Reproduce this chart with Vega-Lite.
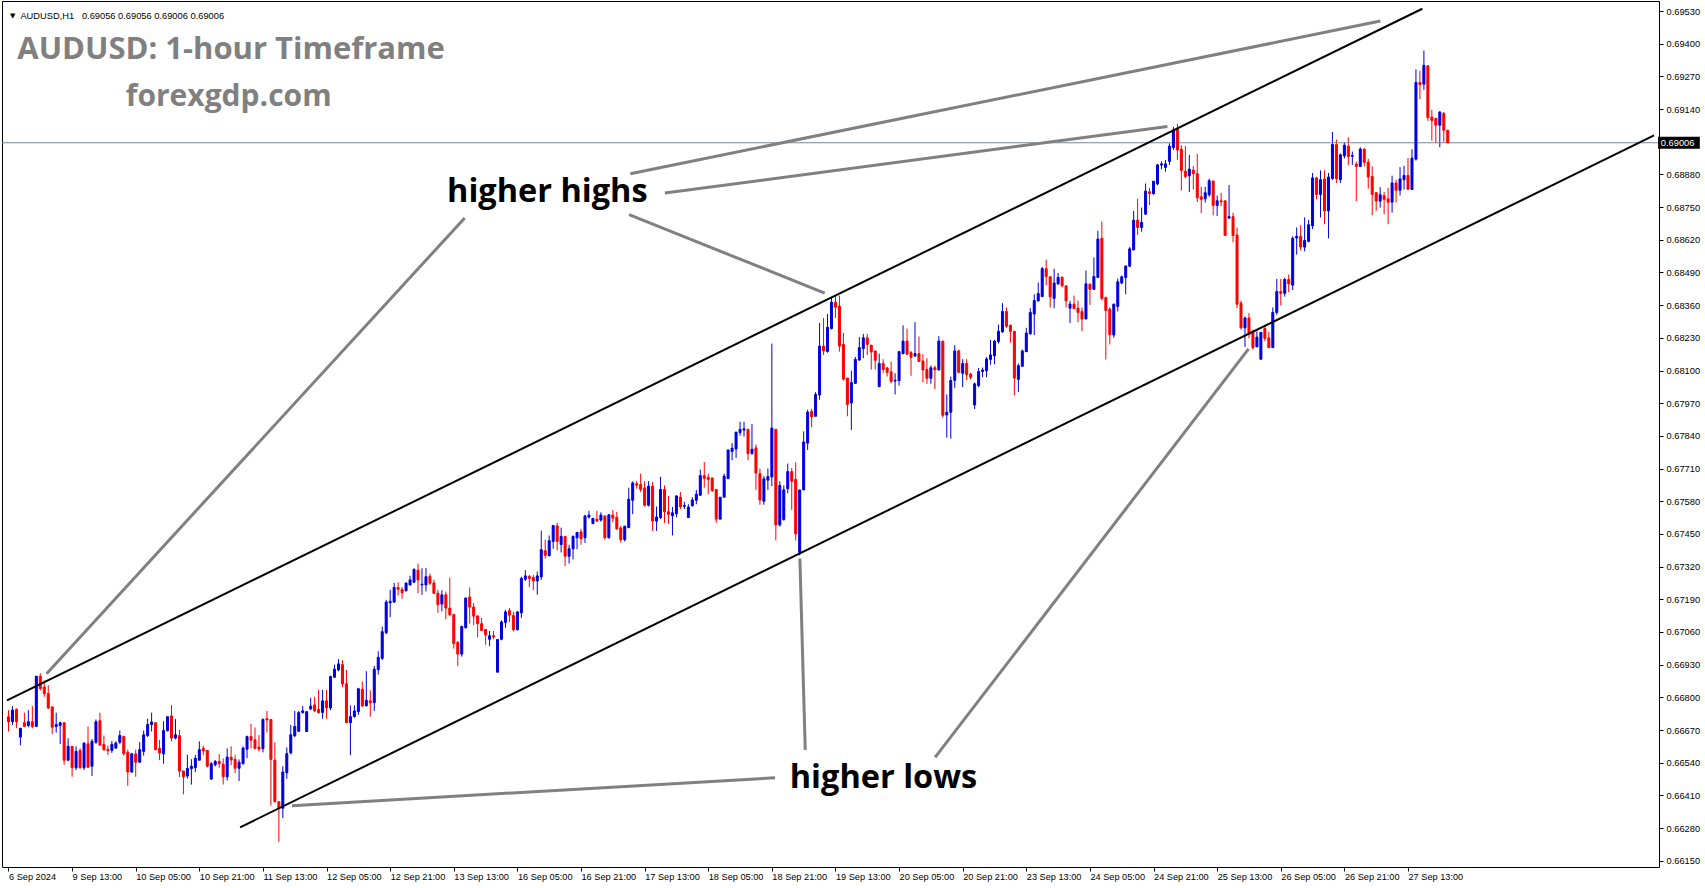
{
"$schema":"https://vega.github.io/schema/vega-lite/v6.json",
"usermeta":{"embedOptions":{"actions":false}},
"width":1657,"height":866,
"autosize":{"type":"none"},
"padding":{"left":2,"top":1,"right":46,"bottom":21},
"background":"white",
"config":{"view":{"stroke":"black","strokeWidth":1},"axis":{"grid":false}},
"datasets":{"candles":[
{"i":0,"o":0.66723,"h":0.66749,"l":0.66664,"c":0.66703},
{"i":1,"o":0.66703,"h":0.66765,"l":0.6669,"c":0.66749},
{"i":2,"o":0.66752,"h":0.66756,"l":0.66677,"c":0.66703},
{"i":3,"o":0.66642,"h":0.66677,"l":0.66609,"c":0.66677},
{"i":4,"o":0.66699,"h":0.66739,"l":0.66684,"c":0.66684},
{"i":5,"o":0.66688,"h":0.66749,"l":0.66681,"c":0.66703},
{"i":6,"o":0.66703,"h":0.66765,"l":0.66677,"c":0.66684},
{"i":7,"o":0.66684,"h":0.66884,"l":0.66684,"c":0.66884},
{"i":8,"o":0.66884,"h":0.66896,"l":0.66828,"c":0.66834},
{"i":9,"o":0.66841,"h":0.66867,"l":0.66802,"c":0.66815},
{"i":10,"o":0.66815,"h":0.66848,"l":0.66753,"c":0.66758},
{"i":11,"o":0.66762,"h":0.66762,"l":0.66654,"c":0.66681},
{"i":12,"o":0.66684,"h":0.66739,"l":0.6666,"c":0.66692},
{"i":13,"o":0.66688,"h":0.66703,"l":0.66614,"c":0.66699},
{"i":14,"o":0.66699,"h":0.66699,"l":0.66532,"c":0.6655},
{"i":15,"o":0.6655,"h":0.66637,"l":0.66546,"c":0.66605},
{"i":16,"o":0.66605,"h":0.66605,"l":0.66484,"c":0.6652},
{"i":17,"o":0.6652,"h":0.66605,"l":0.66511,"c":0.66585},
{"i":18,"o":0.66588,"h":0.66597,"l":0.66516,"c":0.6652},
{"i":19,"o":0.6652,"h":0.66621,"l":0.66511,"c":0.66618},
{"i":20,"o":0.66615,"h":0.66684,"l":0.6652,"c":0.66522},
{"i":21,"o":0.66526,"h":0.66634,"l":0.66487,"c":0.66625},
{"i":22,"o":0.66621,"h":0.66712,"l":0.66615,"c":0.66703},
{"i":23,"o":0.66707,"h":0.66739,"l":0.66608,"c":0.6661},
{"i":24,"o":0.66613,"h":0.66648,"l":0.66589,"c":0.66591},
{"i":25,"o":0.66593,"h":0.66608,"l":0.66571,"c":0.66588},
{"i":26,"o":0.66589,"h":0.66626,"l":0.66579,"c":0.66613},
{"i":27,"o":0.66598,"h":0.66625,"l":0.66596,"c":0.66618},
{"i":28,"o":0.66621,"h":0.66668,"l":0.66615,"c":0.66648},
{"i":29,"o":0.66644,"h":0.66648,"l":0.66568,"c":0.66576},
{"i":30,"o":0.66581,"h":0.66592,"l":0.66448,"c":0.66503},
{"i":31,"o":0.66503,"h":0.66579,"l":0.665,"c":0.66575},
{"i":32,"o":0.66575,"h":0.66592,"l":0.66484,"c":0.66542},
{"i":33,"o":0.66542,"h":0.66622,"l":0.6654,"c":0.66592},
{"i":34,"o":0.66585,"h":0.66668,"l":0.66568,"c":0.66651},
{"i":35,"o":0.66648,"h":0.66715,"l":0.66642,"c":0.66692},
{"i":36,"o":0.66692,"h":0.66739,"l":0.66664,"c":0.66702},
{"i":37,"o":0.66699,"h":0.66699,"l":0.66589,"c":0.66592},
{"i":38,"o":0.66597,"h":0.66631,"l":0.6655,"c":0.66579},
{"i":39,"o":0.66575,"h":0.66705,"l":0.66536,"c":0.66668},
{"i":40,"o":0.66668,"h":0.66723,"l":0.66664,"c":0.66723},
{"i":41,"o":0.66726,"h":0.66769,"l":0.66625,"c":0.66638},
{"i":42,"o":0.66638,"h":0.66714,"l":0.66633,"c":0.66651},
{"i":43,"o":0.66648,"h":0.66671,"l":0.66483,"c":0.66507},
{"i":44,"o":0.66507,"h":0.66507,"l":0.66414,"c":0.66484},
{"i":45,"o":0.66487,"h":0.66572,"l":0.66477,"c":0.66517},
{"i":46,"o":0.66516,"h":0.66554,"l":0.66453,"c":0.66526},
{"i":47,"o":0.6652,"h":0.66571,"l":0.66503,"c":0.66558},
{"i":48,"o":0.6655,"h":0.66625,"l":0.6655,"c":0.66592},
{"i":49,"o":0.66597,"h":0.66608,"l":0.6657,"c":0.66587},
{"i":50,"o":0.66589,"h":0.66589,"l":0.66522,"c":0.66526},
{"i":51,"o":0.66475,"h":0.66542,"l":0.66471,"c":0.66536},
{"i":52,"o":0.66532,"h":0.66551,"l":0.66525,"c":0.66545},
{"i":53,"o":0.66545,"h":0.66574,"l":0.6652,"c":0.66536},
{"i":54,"o":0.66534,"h":0.66557,"l":0.66453,"c":0.66484},
{"i":55,"o":0.66484,"h":0.66597,"l":0.66469,"c":0.66562},
{"i":56,"o":0.66562,"h":0.66605,"l":0.6653,"c":0.66551},
{"i":57,"o":0.66553,"h":0.66571,"l":0.66499,"c":0.66518},
{"i":58,"o":0.66518,"h":0.66553,"l":0.66467,"c":0.66542},
{"i":59,"o":0.66536,"h":0.66605,"l":0.66533,"c":0.66598},
{"i":60,"o":0.66594,"h":0.66648,"l":0.66558,"c":0.66644},
{"i":61,"o":0.66644,"h":0.66694,"l":0.66597,"c":0.66629},
{"i":62,"o":0.66631,"h":0.6668,"l":0.66593,"c":0.66597},
{"i":63,"o":0.66602,"h":0.6665,"l":0.66584,"c":0.66594},
{"i":64,"o":0.66596,"h":0.66716,"l":0.66581,"c":0.66712},
{"i":65,"o":0.66715,"h":0.66746,"l":0.6666,"c":0.6671},
{"i":66,"o":0.66712,"h":0.66712,"l":0.66369,"c":0.66553},
{"i":67,"o":0.6655,"h":0.66621,"l":0.66382,"c":0.66385},
{"i":68,"o":0.66385,"h":0.66385,"l":0.66225,"c":0.66362},
{"i":69,"o":0.66359,"h":0.66526,"l":0.66319,"c":0.66503},
{"i":70,"o":0.665,"h":0.66601,"l":0.66476,"c":0.66576},
{"i":71,"o":0.66579,"h":0.6669,"l":0.66573,"c":0.66651},
{"i":72,"o":0.66647,"h":0.66746,"l":0.66642,"c":0.66684},
{"i":73,"o":0.66665,"h":0.66746,"l":0.66663,"c":0.66739},
{"i":74,"o":0.66739,"h":0.66765,"l":0.66736,"c":0.66746},
{"i":75,"o":0.66664,"h":0.66743,"l":0.66664,"c":0.66743},
{"i":76,"o":0.66754,"h":0.66798,"l":0.66749,"c":0.66765},
{"i":77,"o":0.6677,"h":0.66802,"l":0.66741,"c":0.66746},
{"i":78,"o":0.66752,"h":0.6683,"l":0.66736,"c":0.66739},
{"i":79,"o":0.6674,"h":0.6683,"l":0.66715,"c":0.66786},
{"i":80,"o":0.66786,"h":0.6683,"l":0.66715,"c":0.66758},
{"i":81,"o":0.66758,"h":0.66886,"l":0.66749,"c":0.66883},
{"i":82,"o":0.6688,"h":0.6693,"l":0.66878,"c":0.66912},
{"i":83,"o":0.66909,"h":0.66952,"l":0.66904,"c":0.66933},
{"i":84,"o":0.6693,"h":0.66948,"l":0.66841,"c":0.66853},
{"i":85,"o":0.66854,"h":0.66909,"l":0.66697,"c":0.66699},
{"i":86,"o":0.66699,"h":0.66768,"l":0.6657,"c":0.66723},
{"i":87,"o":0.66723,"h":0.66768,"l":0.66719,"c":0.66746},
{"i":88,"o":0.66743,"h":0.66838,"l":0.6673,"c":0.66834},
{"i":89,"o":0.66832,"h":0.66863,"l":0.66762,"c":0.66766},
{"i":90,"o":0.66766,"h":0.66904,"l":0.66765,"c":0.66788},
{"i":91,"o":0.66786,"h":0.66828,"l":0.66723,"c":0.66778},
{"i":92,"o":0.66779,"h":0.66925,"l":0.66746,"c":0.66912},
{"i":93,"o":0.6691,"h":0.66983,"l":0.66891,"c":0.66959},
{"i":94,"o":0.66955,"h":0.67081,"l":0.66948,"c":0.67061},
{"i":95,"o":0.67057,"h":0.67188,"l":0.67051,"c":0.67179},
{"i":96,"o":0.67176,"h":0.67228,"l":0.67119,"c":0.67182},
{"i":97,"o":0.67179,"h":0.67255,"l":0.67175,"c":0.67237},
{"i":98,"o":0.67237,"h":0.67258,"l":0.67205,"c":0.6723},
{"i":99,"o":0.67229,"h":0.67239,"l":0.67192,"c":0.67216},
{"i":100,"o":0.67224,"h":0.67255,"l":0.67221,"c":0.67255},
{"i":101,"o":0.67247,"h":0.67283,"l":0.67245,"c":0.67267},
{"i":102,"o":0.67258,"h":0.67313,"l":0.67255,"c":0.67309},
{"i":103,"o":0.67306,"h":0.67332,"l":0.67214,"c":0.67267},
{"i":104,"o":0.67247,"h":0.67313,"l":0.67208,"c":0.6725},
{"i":105,"o":0.67247,"h":0.67315,"l":0.67221,"c":0.6728},
{"i":106,"o":0.67281,"h":0.67292,"l":0.67247,"c":0.67254},
{"i":107,"o":0.67255,"h":0.67268,"l":0.67212,"c":0.67214},
{"i":108,"o":0.67214,"h":0.67228,"l":0.67136,"c":0.67169},
{"i":109,"o":0.67171,"h":0.67226,"l":0.67142,"c":0.67208},
{"i":110,"o":0.67208,"h":0.67221,"l":0.6711,"c":0.67155},
{"i":111,"o":0.67155,"h":0.67276,"l":0.67123,"c":0.67129},
{"i":112,"o":0.67129,"h":0.67132,"l":0.66994,"c":0.67014},
{"i":113,"o":0.67018,"h":0.67024,"l":0.66925,"c":0.66972},
{"i":114,"o":0.66972,"h":0.67085,"l":0.66962,"c":0.67082},
{"i":115,"o":0.67077,"h":0.67197,"l":0.67074,"c":0.67195},
{"i":116,"o":0.67199,"h":0.67237,"l":0.67093,"c":0.67159},
{"i":117,"o":0.67159,"h":0.67175,"l":0.67087,"c":0.67123},
{"i":118,"o":0.67124,"h":0.67124,"l":0.67038,"c":0.67093},
{"i":119,"o":0.67093,"h":0.67116,"l":0.67064,"c":0.67066},
{"i":120,"o":0.6707,"h":0.6707,"l":0.67009,"c":0.67048},
{"i":121,"o":0.67031,"h":0.67064,"l":0.67003,"c":0.67045},
{"i":122,"o":0.67045,"h":0.67064,"l":0.67031,"c":0.6704},
{"i":123,"o":0.669,"h":0.6703,"l":0.669,"c":0.6703},
{"i":124,"o":0.67031,"h":0.67106,"l":0.67027,"c":0.671},
{"i":125,"o":0.67098,"h":0.67148,"l":0.67077,"c":0.6714},
{"i":126,"o":0.67145,"h":0.67155,"l":0.671,"c":0.67127},
{"i":127,"o":0.67125,"h":0.6714,"l":0.67062,"c":0.67069},
{"i":128,"o":0.67069,"h":0.67142,"l":0.67066,"c":0.6714},
{"i":129,"o":0.67136,"h":0.6728,"l":0.67116,"c":0.67273},
{"i":130,"o":0.6727,"h":0.67306,"l":0.67263,"c":0.67283},
{"i":131,"o":0.67281,"h":0.67287,"l":0.67239,"c":0.67273},
{"i":132,"o":0.67277,"h":0.67287,"l":0.67226,"c":0.67263},
{"i":133,"o":0.67263,"h":0.673,"l":0.67208,"c":0.67283},
{"i":134,"o":0.67279,"h":0.67463,"l":0.67267,"c":0.67387},
{"i":135,"o":0.67383,"h":0.67427,"l":0.67352,"c":0.67365},
{"i":136,"o":0.67364,"h":0.67444,"l":0.6736,"c":0.67423},
{"i":137,"o":0.6742,"h":0.67486,"l":0.67391,"c":0.67483},
{"i":138,"o":0.67482,"h":0.67494,"l":0.67385,"c":0.6742},
{"i":139,"o":0.67408,"h":0.67475,"l":0.67376,"c":0.6744},
{"i":140,"o":0.6744,"h":0.67441,"l":0.67322,"c":0.67361},
{"i":141,"o":0.67361,"h":0.67407,"l":0.67332,"c":0.67391},
{"i":142,"o":0.67391,"h":0.67444,"l":0.67349,"c":0.6744},
{"i":143,"o":0.67435,"h":0.67457,"l":0.67389,"c":0.67456},
{"i":144,"o":0.67458,"h":0.6747,"l":0.67407,"c":0.67431},
{"i":145,"o":0.67435,"h":0.67525,"l":0.67414,"c":0.67522},
{"i":146,"o":0.67517,"h":0.67542,"l":0.67512,"c":0.67525},
{"i":147,"o":0.67491,"h":0.67512,"l":0.6749,"c":0.67512},
{"i":148,"o":0.67509,"h":0.67542,"l":0.67499,"c":0.67501},
{"i":149,"o":0.67505,"h":0.67536,"l":0.67499,"c":0.67525},
{"i":150,"o":0.67521,"h":0.67525,"l":0.67427,"c":0.67435},
{"i":151,"o":0.67435,"h":0.67528,"l":0.67431,"c":0.67526},
{"i":152,"o":0.67525,"h":0.67545,"l":0.67496,"c":0.67513},
{"i":153,"o":0.67516,"h":0.67538,"l":0.67467,"c":0.6747},
{"i":154,"o":0.67474,"h":0.67481,"l":0.67415,"c":0.67427},
{"i":155,"o":0.67427,"h":0.67481,"l":0.6742,"c":0.67481},
{"i":156,"o":0.67475,"h":0.67634,"l":0.67474,"c":0.67588},
{"i":157,"o":0.67584,"h":0.67659,"l":0.67529,"c":0.67653},
{"i":158,"o":0.6765,"h":0.6766,"l":0.6763,"c":0.67644},
{"i":159,"o":0.67647,"h":0.6769,"l":0.67617,"c":0.67627},
{"i":160,"o":0.67633,"h":0.6766,"l":0.67559,"c":0.67564},
{"i":161,"o":0.67564,"h":0.6766,"l":0.67559,"c":0.6764},
{"i":162,"o":0.6764,"h":0.67656,"l":0.67462,"c":0.67501},
{"i":163,"o":0.67501,"h":0.67559,"l":0.67462,"c":0.67517},
{"i":164,"o":0.67515,"h":0.67677,"l":0.67509,"c":0.67627},
{"i":165,"o":0.67627,"h":0.67643,"l":0.67494,"c":0.67538},
{"i":166,"o":0.67538,"h":0.67601,"l":0.6749,"c":0.67528},
{"i":167,"o":0.67522,"h":0.67557,"l":0.67444,"c":0.67534},
{"i":168,"o":0.6753,"h":0.67604,"l":0.67516,"c":0.67601},
{"i":169,"o":0.67596,"h":0.67617,"l":0.67549,"c":0.67558},
{"i":170,"o":0.6756,"h":0.67578,"l":0.67549,"c":0.67563},
{"i":171,"o":0.67515,"h":0.67568,"l":0.67515,"c":0.67557},
{"i":172,"o":0.67562,"h":0.67596,"l":0.67559,"c":0.67585},
{"i":173,"o":0.67584,"h":0.67625,"l":0.67568,"c":0.67608},
{"i":174,"o":0.67604,"h":0.67706,"l":0.67601,"c":0.67682},
{"i":175,"o":0.67682,"h":0.67736,"l":0.67634,"c":0.67671},
{"i":176,"o":0.67675,"h":0.6769,"l":0.67608,"c":0.67667},
{"i":177,"o":0.67672,"h":0.67675,"l":0.67617,"c":0.67623},
{"i":178,"o":0.67627,"h":0.67627,"l":0.67494,"c":0.67509},
{"i":179,"o":0.67509,"h":0.67596,"l":0.67507,"c":0.67596},
{"i":180,"o":0.67596,"h":0.6769,"l":0.67596,"c":0.6768},
{"i":181,"o":0.6767,"h":0.67784,"l":0.6767,"c":0.67784},
{"i":182,"o":0.67778,"h":0.67811,"l":0.67743,"c":0.67791},
{"i":183,"o":0.67788,"h":0.67855,"l":0.67752,"c":0.67855},
{"i":184,"o":0.67853,"h":0.67896,"l":0.67841,"c":0.67866},
{"i":185,"o":0.67863,"h":0.67896,"l":0.67837,"c":0.67868},
{"i":186,"o":0.67866,"h":0.67868,"l":0.67743,"c":0.6777},
{"i":187,"o":0.6777,"h":0.67887,"l":0.67765,"c":0.67787},
{"i":188,"o":0.67792,"h":0.67806,"l":0.67625,"c":0.67692},
{"i":189,"o":0.6769,"h":0.6771,"l":0.67566,"c":0.67585},
{"i":190,"o":0.6758,"h":0.6768,"l":0.67566,"c":0.67669},
{"i":191,"o":0.67664,"h":0.6771,"l":0.67625,"c":0.67678},
{"i":192,"o":0.67677,"h":0.68207,"l":0.6764,"c":0.67871},
{"i":193,"o":0.67866,"h":0.67866,"l":0.67424,"c":0.67486},
{"i":194,"o":0.67486,"h":0.67659,"l":0.67479,"c":0.67643},
{"i":195,"o":0.67507,"h":0.67643,"l":0.67503,"c":0.67625},
{"i":196,"o":0.6763,"h":0.6773,"l":0.67612,"c":0.67698},
{"i":197,"o":0.67698,"h":0.67712,"l":0.67546,"c":0.67659},
{"i":198,"o":0.67667,"h":0.67735,"l":0.67424,"c":0.6745},
{"i":199,"o":0.67376,"h":0.67625,"l":0.67365,"c":0.67625},
{"i":200,"o":0.67625,"h":0.67858,"l":0.67625,"c":0.67816},
{"i":201,"o":0.67811,"h":0.67944,"l":0.67784,"c":0.67935},
{"i":202,"o":0.67938,"h":0.67948,"l":0.67874,"c":0.67916},
{"i":203,"o":0.67918,"h":0.68014,"l":0.67918,"c":0.68005},
{"i":204,"o":0.68003,"h":0.68289,"l":0.67984,"c":0.68197},
{"i":205,"o":0.68197,"h":0.68309,"l":0.68162,"c":0.68178},
{"i":206,"o":0.68176,"h":0.68325,"l":0.68171,"c":0.68272},
{"i":207,"o":0.68267,"h":0.6839,"l":0.68263,"c":0.68372},
{"i":208,"o":0.68372,"h":0.68398,"l":0.68309,"c":0.68352},
{"i":209,"o":0.68356,"h":0.68398,"l":0.68175,"c":0.68197},
{"i":210,"o":0.68204,"h":0.6825,"l":0.6806,"c":0.68066},
{"i":211,"o":0.6807,"h":0.6807,"l":0.67918,"c":0.67965},
{"i":212,"o":0.67971,"h":0.68099,"l":0.67863,"c":0.68052},
{"i":213,"o":0.68049,"h":0.68154,"l":0.68047,"c":0.68144},
{"i":214,"o":0.68142,"h":0.68233,"l":0.68138,"c":0.68191},
{"i":215,"o":0.68187,"h":0.68246,"l":0.68149,"c":0.6823},
{"i":216,"o":0.6823,"h":0.68246,"l":0.68162,"c":0.68204},
{"i":217,"o":0.68201,"h":0.68201,"l":0.68104,"c":0.68174},
{"i":218,"o":0.68178,"h":0.68178,"l":0.68104,"c":0.68141},
{"i":219,"o":0.68036,"h":0.68167,"l":0.68034,"c":0.68128},
{"i":220,"o":0.68128,"h":0.68145,"l":0.68089,"c":0.68104},
{"i":221,"o":0.6811,"h":0.68115,"l":0.68076,"c":0.68093},
{"i":222,"o":0.68095,"h":0.68136,"l":0.68049,"c":0.68057},
{"i":223,"o":0.68058,"h":0.68089,"l":0.68005,"c":0.68061},
{"i":224,"o":0.6806,"h":0.68178,"l":0.6804,"c":0.68175},
{"i":225,"o":0.68167,"h":0.6828,"l":0.68165,"c":0.68217},
{"i":226,"o":0.68217,"h":0.68267,"l":0.68162,"c":0.68165},
{"i":227,"o":0.68171,"h":0.68178,"l":0.68079,"c":0.68152},
{"i":228,"o":0.68158,"h":0.68292,"l":0.68154,"c":0.68167},
{"i":229,"o":0.68167,"h":0.68235,"l":0.68135,"c":0.68136},
{"i":230,"o":0.68138,"h":0.68165,"l":0.68053,"c":0.68102},
{"i":231,"o":0.68104,"h":0.68149,"l":0.68047,"c":0.68069},
{"i":232,"o":0.68069,"h":0.6812,"l":0.68047,"c":0.68111},
{"i":233,"o":0.68111,"h":0.68119,"l":0.68026,"c":0.68103},
{"i":234,"o":0.68102,"h":0.68237,"l":0.68102,"c":0.68217},
{"i":235,"o":0.68217,"h":0.68217,"l":0.67913,"c":0.67922},
{"i":236,"o":0.67923,"h":0.68005,"l":0.67833,"c":0.67934},
{"i":237,"o":0.67934,"h":0.68076,"l":0.67829,"c":0.6806},
{"i":238,"o":0.68061,"h":0.68201,"l":0.68031,"c":0.68178},
{"i":239,"o":0.68178,"h":0.68182,"l":0.68089,"c":0.68093},
{"i":240,"o":0.68089,"h":0.68145,"l":0.68034,"c":0.68128},
{"i":241,"o":0.68128,"h":0.68145,"l":0.68062,"c":0.68083},
{"i":242,"o":0.68086,"h":0.68091,"l":0.68064,"c":0.68073},
{"i":243,"o":0.67963,"h":0.68052,"l":0.67947,"c":0.68047},
{"i":244,"o":0.6804,"h":0.6811,"l":0.68034,"c":0.68096},
{"i":245,"o":0.68096,"h":0.68112,"l":0.68073,"c":0.68102},
{"i":246,"o":0.68099,"h":0.68154,"l":0.68073,"c":0.68146},
{"i":247,"o":0.68144,"h":0.68222,"l":0.68123,"c":0.68162},
{"i":248,"o":0.68158,"h":0.68222,"l":0.68125,"c":0.68217},
{"i":249,"o":0.68215,"h":0.68283,"l":0.68207,"c":0.68256},
{"i":250,"o":0.68254,"h":0.68368,"l":0.6825,"c":0.68335},
{"i":251,"o":0.68335,"h":0.68351,"l":0.6827,"c":0.68276},
{"i":252,"o":0.6828,"h":0.68283,"l":0.68211,"c":0.68256},
{"i":253,"o":0.68256,"h":0.68256,"l":0.68001,"c":0.6807},
{"i":254,"o":0.68065,"h":0.68128,"l":0.68014,"c":0.68119},
{"i":255,"o":0.68117,"h":0.68183,"l":0.68115,"c":0.68178},
{"i":256,"o":0.68175,"h":0.6827,"l":0.68175,"c":0.68249},
{"i":257,"o":0.68246,"h":0.68348,"l":0.68243,"c":0.68331},
{"i":258,"o":0.68325,"h":0.68403,"l":0.68241,"c":0.68378},
{"i":259,"o":0.68377,"h":0.6845,"l":0.68374,"c":0.68406},
{"i":260,"o":0.68394,"h":0.68512,"l":0.68393,"c":0.68505},
{"i":261,"o":0.68505,"h":0.68541,"l":0.6844,"c":0.68474},
{"i":262,"o":0.68473,"h":0.68473,"l":0.68351,"c":0.68393},
{"i":263,"o":0.68387,"h":0.68505,"l":0.68348,"c":0.68448},
{"i":264,"o":0.68445,"h":0.68488,"l":0.6844,"c":0.68471},
{"i":265,"o":0.68471,"h":0.68474,"l":0.68431,"c":0.68437},
{"i":266,"o":0.68437,"h":0.68437,"l":0.68351,"c":0.68377},
{"i":267,"o":0.68348,"h":0.68377,"l":0.68289,"c":0.68364},
{"i":268,"o":0.68364,"h":0.68398,"l":0.68344,"c":0.68346},
{"i":269,"o":0.68348,"h":0.68378,"l":0.68292,"c":0.68331},
{"i":270,"o":0.68335,"h":0.68351,"l":0.68256,"c":0.68305},
{"i":271,"o":0.68305,"h":0.68498,"l":0.68305,"c":0.68445},
{"i":272,"o":0.68443,"h":0.68447,"l":0.68361,"c":0.68423},
{"i":273,"o":0.68423,"h":0.6855,"l":0.6842,"c":0.68474},
{"i":274,"o":0.6847,"h":0.68656,"l":0.68469,"c":0.68623},
{"i":275,"o":0.68626,"h":0.68693,"l":0.68378,"c":0.68387},
{"i":276,"o":0.6839,"h":0.68394,"l":0.68144,"c":0.68339},
{"i":277,"o":0.68344,"h":0.68351,"l":0.68204,"c":0.68243},
{"i":278,"o":0.68241,"h":0.68366,"l":0.6823,"c":0.68364},
{"i":279,"o":0.68355,"h":0.68466,"l":0.68335,"c":0.68453},
{"i":280,"o":0.68448,"h":0.68477,"l":0.68443,"c":0.68473},
{"i":281,"o":0.6847,"h":0.68516,"l":0.68403,"c":0.68516},
{"i":282,"o":0.68515,"h":0.68591,"l":0.68512,"c":0.68584},
{"i":283,"o":0.6858,"h":0.68735,"l":0.68578,"c":0.68698},
{"i":284,"o":0.68698,"h":0.68783,"l":0.68639,"c":0.68669},
{"i":285,"o":0.68669,"h":0.68748,"l":0.68652,"c":0.68689},
{"i":286,"o":0.68722,"h":0.68844,"l":0.68719,"c":0.68814},
{"i":287,"o":0.68811,"h":0.68827,"l":0.68758,"c":0.68804},
{"i":288,"o":0.68803,"h":0.68853,"l":0.688,"c":0.68853},
{"i":289,"o":0.68842,"h":0.68922,"l":0.68837,"c":0.68918},
{"i":290,"o":0.68917,"h":0.68932,"l":0.68901,"c":0.68922},
{"i":291,"o":0.68908,"h":0.68938,"l":0.68891,"c":0.68922},
{"i":292,"o":0.68932,"h":0.69004,"l":0.68918,"c":0.68993},
{"i":293,"o":0.68987,"h":0.69069,"l":0.68977,"c":0.69056},
{"i":294,"o":0.69062,"h":0.69082,"l":0.68938,"c":0.68977},
{"i":295,"o":0.6898,"h":0.68996,"l":0.68816,"c":0.68896},
{"i":296,"o":0.68893,"h":0.68993,"l":0.68865,"c":0.68872},
{"i":297,"o":0.68875,"h":0.68958,"l":0.6881,"c":0.68901},
{"i":298,"o":0.68897,"h":0.68914,"l":0.6882,"c":0.68883},
{"i":299,"o":0.68883,"h":0.68962,"l":0.6877,"c":0.68787},
{"i":300,"o":0.68791,"h":0.68831,"l":0.68726,"c":0.68781},
{"i":301,"o":0.68783,"h":0.68831,"l":0.68768,"c":0.68807},
{"i":302,"o":0.68799,"h":0.68863,"l":0.68791,"c":0.68855},
{"i":303,"o":0.68854,"h":0.68854,"l":0.68718,"c":0.68757},
{"i":304,"o":0.68757,"h":0.68796,"l":0.68715,"c":0.68775},
{"i":305,"o":0.68775,"h":0.68807,"l":0.68754,"c":0.68771},
{"i":306,"o":0.68775,"h":0.68775,"l":0.68637,"c":0.68637},
{"i":307,"o":0.68707,"h":0.68838,"l":0.68702,"c":0.68712},
{"i":308,"o":0.68712,"h":0.68728,"l":0.6861,"c":0.68637},
{"i":309,"o":0.68639,"h":0.68669,"l":0.68348,"c":0.68364},
{"i":310,"o":0.68368,"h":0.68377,"l":0.68263,"c":0.6827},
{"i":311,"o":0.6827,"h":0.68315,"l":0.68194,"c":0.68309},
{"i":312,"o":0.68309,"h":0.68329,"l":0.68228,"c":0.68243},
{"i":313,"o":0.68256,"h":0.68263,"l":0.68184,"c":0.68191},
{"i":314,"o":0.68194,"h":0.68256,"l":0.68194,"c":0.68233},
{"i":315,"o":0.68145,"h":0.68252,"l":0.68145,"c":0.68252},
{"i":316,"o":0.68267,"h":0.6828,"l":0.68217,"c":0.68228},
{"i":317,"o":0.6823,"h":0.68254,"l":0.68191,"c":0.68191},
{"i":318,"o":0.68191,"h":0.68351,"l":0.68191,"c":0.68331},
{"i":319,"o":0.68331,"h":0.68464,"l":0.68322,"c":0.68414},
{"i":320,"o":0.68414,"h":0.68464,"l":0.68359,"c":0.68407},
{"i":321,"o":0.68407,"h":0.68469,"l":0.68394,"c":0.68462},
{"i":322,"o":0.68462,"h":0.68482,"l":0.68411,"c":0.68445},
{"i":323,"o":0.6844,"h":0.68634,"l":0.6842,"c":0.68626},
{"i":324,"o":0.68627,"h":0.68669,"l":0.68561,"c":0.68634},
{"i":325,"o":0.68634,"h":0.68678,"l":0.68578,"c":0.68591},
{"i":326,"o":0.68591,"h":0.68709,"l":0.68574,"c":0.68617},
{"i":327,"o":0.68614,"h":0.68699,"l":0.6861,"c":0.6868},
{"i":328,"o":0.68676,"h":0.68886,"l":0.68663,"c":0.68866},
{"i":329,"o":0.68866,"h":0.6887,"l":0.68781,"c":0.688},
{"i":330,"o":0.688,"h":0.68896,"l":0.68709,"c":0.68859},
{"i":331,"o":0.68862,"h":0.68896,"l":0.68682,"c":0.68735},
{"i":332,"o":0.68735,"h":0.68886,"l":0.68626,"c":0.6887},
{"i":333,"o":0.68863,"h":0.69049,"l":0.68859,"c":0.68999},
{"i":334,"o":0.68999,"h":0.69019,"l":0.68846,"c":0.68863},
{"i":335,"o":0.68859,"h":0.68964,"l":0.68846,"c":0.68958},
{"i":336,"o":0.68954,"h":0.69009,"l":0.68944,"c":0.68996},
{"i":337,"o":0.68992,"h":0.69027,"l":0.68918,"c":0.68951},
{"i":338,"o":0.68952,"h":0.68971,"l":0.68918,"c":0.68955},
{"i":339,"o":0.68921,"h":0.68931,"l":0.68774,"c":0.68912},
{"i":340,"o":0.68912,"h":0.68988,"l":0.68909,"c":0.68981},
{"i":341,"o":0.6898,"h":0.68984,"l":0.68912,"c":0.68928},
{"i":342,"o":0.68929,"h":0.68942,"l":0.68823,"c":0.6887},
{"i":343,"o":0.68872,"h":0.68912,"l":0.68718,"c":0.688},
{"i":344,"o":0.68807,"h":0.6881,"l":0.68735,"c":0.68774},
{"i":345,"o":0.68774,"h":0.68829,"l":0.68748,"c":0.68799},
{"i":346,"o":0.68796,"h":0.6881,"l":0.68722,"c":0.68781},
{"i":347,"o":0.68783,"h":0.68827,"l":0.68682,"c":0.6877},
{"i":348,"o":0.6877,"h":0.68875,"l":0.68728,"c":0.68846},
{"i":349,"o":0.68846,"h":0.68859,"l":0.68768,"c":0.68817},
{"i":350,"o":0.68817,"h":0.68909,"l":0.68796,"c":0.68862},
{"i":351,"o":0.68859,"h":0.68914,"l":0.6882,"c":0.68876},
{"i":352,"o":0.68876,"h":0.68945,"l":0.6882,"c":0.68821},
{"i":353,"o":0.6882,"h":0.6898,"l":0.6882,"c":0.68945},
{"i":354,"o":0.68941,"h":0.69298,"l":0.68935,"c":0.69246},
{"i":355,"o":0.69246,"h":0.69292,"l":0.6918,"c":0.69237},
{"i":356,"o":0.69239,"h":0.69373,"l":0.69216,"c":0.69314},
{"i":357,"o":0.69312,"h":0.69315,"l":0.69093,"c":0.69106},
{"i":358,"o":0.69108,"h":0.69137,"l":0.69014,"c":0.69095},
{"i":359,"o":0.69102,"h":0.69106,"l":0.69004,"c":0.69076},
{"i":360,"o":0.69076,"h":0.69132,"l":0.68988,"c":0.69128},
{"i":361,"o":0.69123,"h":0.69128,"l":0.6901,"c":0.69056},
{"i":362,"o":0.69056,"h":0.69056,"l":0.69006,"c":0.69006}
]},
"layer":[
{"data":{"name":"candles"},
 "mark":{"type":"rule","strokeWidth":1},
 "encoding":{
  "x":{"field":"i","type":"quantitative","title":null,"scale":{"domain":[-0.375,413.875],"nice":false,"zero":false},
   "axis":{"orient":"bottom","title":null,"domain":false,"grid":false,"tickCount":60,"values":[0,16,32,48,64,80,96,112,128,144,160,176,192,208,224,240,256,272,288,304,320,336,352],
    "labelExpr":"['6 Sep 2024','9 Sep 13:00','10 Sep 05:00','10 Sep 21:00','11 Sep 13:00','12 Sep 05:00','12 Sep 21:00','13 Sep 13:00','16 Sep 05:00','16 Sep 21:00','17 Sep 13:00','18 Sep 05:00','18 Sep 21:00','19 Sep 13:00','20 Sep 05:00','20 Sep 21:00','23 Sep 13:00','24 Sep 05:00','24 Sep 21:00','25 Sep 13:00','26 Sep 05:00','26 Sep 21:00','27 Sep 13:00'][round(datum.value/16)]",
    "labelAlign":"left","labelBaseline":"top","labelPadding":1,"tickSize":4,"tickColor":"black","labelColor":"black","labelFont":"Liberation Sans","labelFontSize":9.2,"labelFlush":false,"labelOverlap":false}},
  "y":{"field":"l","type":"quantitative","title":null,"scale":{"domain":[0.66145,0.6955],"nice":false,"zero":false},
   "axis":{"orient":"right","title":null,"domain":false,"grid":false,"tickCount":60,"values":[0.6615,0.6628,0.6641,0.6654,0.6667,0.668,0.6693,0.6706,0.6719,0.6732,0.6745,0.6758,0.6771,0.6784,0.6797,0.681,0.6823,0.6836,0.6849,0.6862,0.6875,0.6888,0.6914,0.6927,0.694,0.6953],
    "format":".5f","tickSize":4,"tickColor":"black","labelPadding":3,"labelColor":"black","labelFont":"Liberation Sans","labelFontSize":9.3,"labelFlush":false,"labelOverlap":false}},
  "y2":{"field":"h"},
  "color":{"condition":{"test":"datum.c >= datum.o","value":"#0000DD"},"value":"#FF0000"}}},
{"data":{"values":[{"p":0.69006}]},
 "mark":{"type":"rule","color":"#778899","strokeWidth":1},
 "encoding":{"y":{"field":"p","type":"quantitative","title":null}}},
{"data":{"name":"candles"},
 "mark":{"type":"bar","size":2,"strokeWidth":1},
 "encoding":{
  "x":{"field":"i","type":"quantitative","title":null},
  "y":{"field":"o","type":"quantitative","title":null},
  "y2":{"field":"c"},
  "color":{"condition":{"test":"datum.c >= datum.o","value":"#0000DD"},"value":"#FF0000"},
  "stroke":{"condition":{"test":"datum.c >= datum.o","value":"#0000DD"},"value":"#FF0000"}}},
{"data":{"values":[{"i":-0.375,"p":0.66788,"i2":355.6,"p2":0.69539},{"i":58.25,"p":0.66283,"i2":413.875,"p2":0.69035}]},
 "mark":{"type":"rule","color":"black","strokeWidth":2},
 "encoding":{
  "x":{"field":"i","type":"quantitative","title":null},
  "x2":{"field":"i2"},
  "y":{"field":"p","type":"quantitative","title":null},
  "y2":{"field":"p2"}}},
{"data":{"values":[
  {"i":114.75,"p":0.68707,"i2":9.58,"p2":0.66894},
  {"i":156.4,"p":0.68883,"i2":345.05,"p2":0.6949},
  {"i":165.1,"p":0.68806,"i2":291.5,"p2":0.69071},
  {"i":156.1,"p":0.6872,"i2":205.3,"p2":0.68408},
  {"i":200.4,"p":0.66591,"i2":199.05,"p2":0.67352},
  {"i":233.05,"p":0.66561,"i2":311.9,"p2":0.68186},
  {"i":192.8,"p":0.6648,"i2":71.3,"p2":0.66369}]},
 "mark":{"type":"rule","color":"#808080","strokeWidth":3},
 "encoding":{
  "x":{"field":"i","type":"quantitative","title":null},
  "x2":{"field":"i2"},
  "y":{"field":"p","type":"quantitative","title":null},
  "y2":{"field":"p2"}}},
{"data":{"values":[{"t":"AUDUSD: 1-hour Timeframe","i":2.2,"p":0.69338}]},
 "mark":{"type":"text","font":"Open Sans","fontWeight":"bold","fontSize":31,"color":"#808080","align":"left","baseline":"alphabetic"},
 "encoding":{
  "x":{"field":"i","type":"quantitative","title":null},
  "y":{"field":"p","type":"quantitative","title":null},
  "text":{"field":"t"}}},
{"data":{"values":[{"t":"forexgdp.com","i":29.5,"p":0.69154}]},
 "mark":{"type":"text","font":"Open Sans","fontWeight":"bold","fontSize":30,"color":"#808080","align":"left","baseline":"alphabetic"},
 "encoding":{
  "x":{"field":"i","type":"quantitative","title":null},
  "y":{"field":"p","type":"quantitative","title":null},
  "text":{"field":"t"}}},
{"data":{"values":[{"t":"higher highs","i":110.3,"p":0.6877},{"t":"higher lows","i":196.5,"p":0.6644}]},
 "mark":{"type":"text","font":"Open Sans","fontWeight":"bold","fontSize":32.5,"color":"black","align":"left","baseline":"alphabetic"},
 "encoding":{
  "x":{"field":"i","type":"quantitative","title":null},
  "y":{"field":"p","type":"quantitative","title":null},
  "text":{"field":"t"}}},
{"data":{"values":[{"t":"AUDUSD,H1\u00a0\u00a0 0.69056 0.69056 0.69006 0.69006","i":3.0,"p":0.695}]},
 "mark":{"type":"text","font":"Liberation Sans","fontSize":9.3,"color":"black","align":"left","baseline":"alphabetic"},
 "encoding":{
  "x":{"field":"i","type":"quantitative","title":null},
  "y":{"field":"p","type":"quantitative","title":null},
  "text":{"field":"t"}}},
{"data":{"values":[{"t":"▼","i":0.375,"p":0.69503}]},
 "mark":{"type":"text","font":"DejaVu Sans","fontSize":7,"color":"black","align":"left","baseline":"alphabetic"},
 "encoding":{
  "x":{"field":"i","type":"quantitative","title":null},
  "y":{"field":"p","type":"quantitative","title":null},
  "text":{"field":"t"}}},
{"data":{"values":[{"p":0.69006,"t":"0.69006"}]},
 "layer":[
  {"mark":{"type":"bar","size":12,"color":"black","clip":false},
   "encoding":{
    "x":{"datum":414.9,"type":"quantitative","title":null},
    "x2":{"datum":425.4},
    "y":{"field":"p","type":"quantitative","title":null}}},
  {"mark":{"type":"text","font":"Liberation Sans","fontSize":9.3,"color":"white","align":"left","baseline":"middle","clip":false},
   "encoding":{
    "x":{"datum":415.6,"type":"quantitative","title":null},
    "y":{"field":"p","type":"quantitative","title":null},
    "text":{"field":"t"}}}
 ]}
]
}
